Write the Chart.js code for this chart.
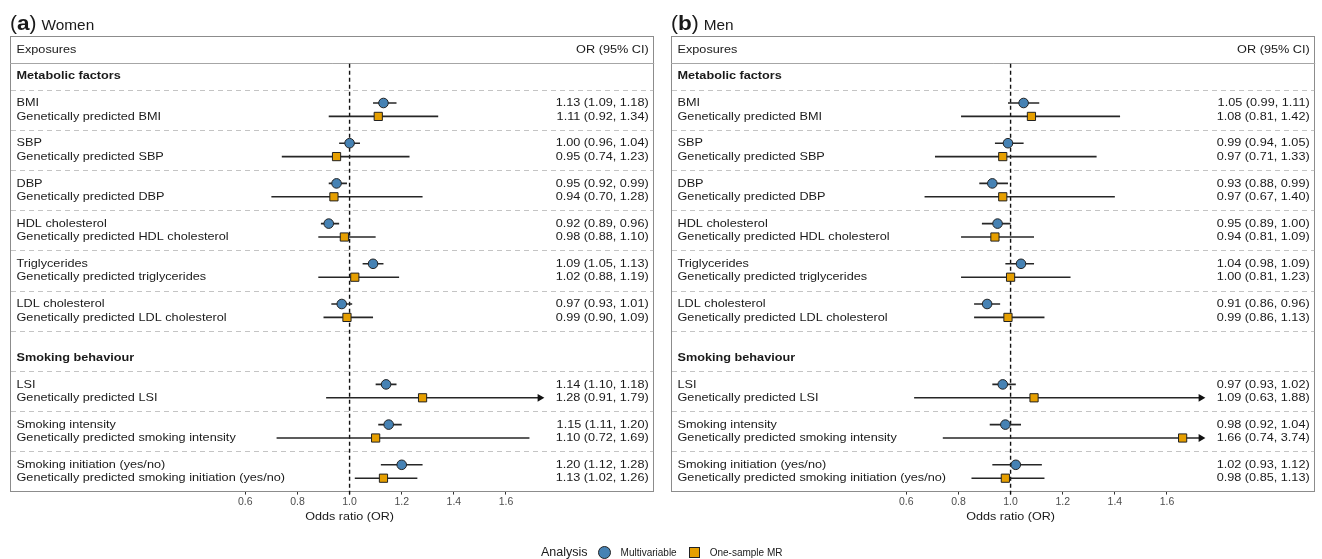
<!DOCTYPE html>
<html><head><meta charset="utf-8">
<script src="https://cdn.jsdelivr.net/npm/chart.js@4"></script>
<style>
body{margin:0;background:#fff;width:1322px;height:559px;overflow:hidden;position:relative;font-family:'Liberation Sans',Arial,sans-serif;}
canvas{position:absolute;top:0;}
#c1{left:0}
#c2{left:661px}
#legend{position:absolute;top:543px;left:541px;height:18px;display:flex;align-items:center;color:#1a1a1a;white-space:nowrap;}
#legend .t{font-size:12.5px;margin-right:10px;}
#legend .c{width:11px;height:11px;border-radius:50%;background:#4682B4;border:1px solid #222;margin-right:10px;}
#legend .s{width:9px;height:9px;background:#E69F00;border:1px solid #222;margin-right:10px;}
#legend .l{font-size:10px;margin-right:12px;}
</style></head><body>
<canvas id="c1" width="661" height="559"></canvas>
<canvas id="c2" width="661" height="559"></canvas>
<div id="legend"><span class="t">Analysis</span><span class="c"></span><span class="l">Multivariable</span><span class="s"></span><span class="l">One-sample MR</span></div>
<script>
// ---------- data ----------
const groupNames = ['Metabolic factors', 'Smoking behaviour'];
const exposureGroup = [0, 0, 0, 0, 0, 0, 1, 1, 1];
const exposures = ['BMI', 'SBP', 'DBP', 'HDL cholesterol', 'Triglycerides', 'LDL cholesterol',
  'LSI', 'Smoking intensity', 'Smoking initiation (yes/no)'];
const mrLabels = ['Genetically predicted BMI', 'Genetically predicted SBP', 'Genetically predicted DBP',
  'Genetically predicted HDL cholesterol', 'Genetically predicted triglycerides',
  'Genetically predicted LDL cholesterol', 'Genetically predicted LSI',
  'Genetically predicted smoking intensity', 'Genetically predicted smoking initiation (yes/no)'];

const womenMV_or = [1.13, 1.00, 0.95, 0.92, 1.09, 0.97, 1.14, 1.15, 1.20];
const womenMV_lo = [1.09, 0.96, 0.92, 0.89, 1.05, 0.93, 1.10, 1.11, 1.12];
const womenMV_hi = [1.18, 1.04, 0.99, 0.96, 1.13, 1.01, 1.18, 1.20, 1.28];
const womenMR_or = [1.11, 0.95, 0.94, 0.98, 1.02, 0.99, 1.28, 1.10, 1.13];
const womenMR_lo = [0.92, 0.74, 0.70, 0.88, 0.88, 0.90, 0.91, 0.72, 1.02];
const womenMR_hi = [1.34, 1.23, 1.28, 1.10, 1.19, 1.09, 1.79, 1.69, 1.26];

const menMV_or = [1.05, 0.99, 0.93, 0.95, 1.04, 0.91, 0.97, 0.98, 1.02];
const menMV_lo = [0.99, 0.94, 0.88, 0.89, 0.98, 0.86, 0.93, 0.92, 0.93];
const menMV_hi = [1.11, 1.05, 0.99, 1.00, 1.09, 0.96, 1.02, 1.04, 1.12];
const menMR_or = [1.08, 0.97, 0.97, 0.94, 1.00, 0.99, 1.09, 1.66, 0.98];
const menMR_lo = [0.81, 0.71, 0.67, 0.81, 0.81, 0.86, 0.63, 0.74, 0.85];
const menMR_hi = [1.42, 1.33, 1.40, 1.09, 1.23, 1.13, 1.88, 3.74, 1.13];

const xTicks = [0.6, 0.8, 1.0, 1.2, 1.4, 1.6];
const nullValue = 1.0;
const arrowCap = 1.73;

// ---------- layout (row slots, 1 slot = one text line) ----------
const X_MIN = 1 - 340 / 261, X_MAX = 1 + 305 / 261;
const Y_MAX = 34;
const HEADER_POS = 1, HEADER_LINE = 2;
function rowPos(i) { return exposureGroup[i] === 0 ? 5 + 3 * i : 26 + 3 * (i - 6); }
const groupPos = [3, 24];
const sepPos = [4, 7, 10, 13, 16, 19, 22, 25, 28, 31];

const FONT = "'Liberation Sans', Arial, sans-serif";
const TXT = '#1a1a1a';
const SX = 1.075; // slight horizontal stretch of the source figure's text
const FS = 11.8;
const fmt = (o, l, h) => `${o.toFixed(2)} (${l.toFixed(2)}, ${h.toFixed(2)})`;

function txt(ctx, s, x, y, size, align, weight, base) {
  ctx.save();
  ctx.font = `${weight || ''} ${size}px ${FONT}`;
  ctx.textAlign = align || 'left';
  ctx.textBaseline = base || 'middle';
  ctx.translate(x, y);
  ctx.scale(SX, 1);
  ctx.fillText(s, 0, 0);
  const w = ctx.measureText(s).width * SX;
  ctx.restore();
  return w;
}

function makePanel(id, tag, title, mv, mr) {
  const tablePlugin = {
    id: 'table' + id,
    beforeDatasetsDraw(chart) {
      const { ctx, chartArea: a, scales: { x, y } } = chart;
      ctx.save();
      ctx.fillStyle = TXT;
      // title
      let tx = 10;
      tx += txt(ctx, '(', tx, 30, 19.5, 'left', '', 'alphabetic');
      tx += txt(ctx, tag, tx, 30, 21, 'left', 'bold', 'alphabetic');
      tx += txt(ctx, ')', tx, 30, 19.5, 'left', '', 'alphabetic');
      txt(ctx, title, tx + 5, 30, 14.3, 'left', '', 'alphabetic');
      // box
      ctx.strokeStyle = '#8c8c8c'; ctx.lineWidth = 1;
      ctx.strokeRect(Math.round(a.left) + 0.5, Math.round(a.top) + 0.5, Math.round(a.width) - 1, Math.round(a.height) - 1);
      // header line
      const hy = Math.round(y.getPixelForValue(HEADER_LINE)) + 0.5;
      ctx.strokeStyle = '#a6a6a6';
      ctx.beginPath(); ctx.moveTo(a.left, hy); ctx.lineTo(a.right, hy); ctx.stroke();
      // dashed separators
      ctx.strokeStyle = '#c4c4c4'; ctx.setLineDash([5, 4]);
      sepPos.forEach(p => {
        const sy = Math.round(y.getPixelForValue(p)) + 0.5;
        ctx.beginPath(); ctx.moveTo(a.left + 1, sy); ctx.lineTo(a.right - 1, sy); ctx.stroke();
      });
      // null line
      ctx.strokeStyle = '#111'; ctx.lineWidth = 1.4; ctx.setLineDash([4, 3]);
      const nx = x.getPixelForValue(nullValue);
      ctx.beginPath(); ctx.moveTo(nx, y.getPixelForValue(HEADER_LINE) + 1); ctx.lineTo(nx, a.bottom + 3); ctx.stroke();
      ctx.setLineDash([]);
      // texts
      const lx = a.left + 6.5, rx = a.right - 5.5;
      txt(ctx, 'Exposures', lx, y.getPixelForValue(HEADER_POS), FS, 'left');
      txt(ctx, 'OR (95% CI)', rx, y.getPixelForValue(HEADER_POS), FS, 'right');
      groupNames.forEach((g, k) => txt(ctx, g, lx, y.getPixelForValue(groupPos[k]), FS, 'left', 'bold'));
      exposures.forEach((e, i) => {
        const p = rowPos(i);
        txt(ctx, e, lx, y.getPixelForValue(p), FS, 'left');
        txt(ctx, mrLabels[i], lx, y.getPixelForValue(p + 1), FS, 'left');
        txt(ctx, fmt(mv.or[i], mv.lo[i], mv.hi[i]), rx, y.getPixelForValue(p), FS, 'right');
        txt(ctx, fmt(mr.or[i], mr.lo[i], mr.hi[i]), rx, y.getPixelForValue(p + 1), FS, 'right');
      });
      ctx.restore();
    },
    afterDraw(chart) {
      const { ctx, scales: { x } } = chart;
      ctx.save();
      ctx.fillStyle = TXT;
      txt(ctx, 'Odds ratio (OR)', x.getPixelForValue(nullValue), 517, 11.7, 'center');
      ctx.restore();
    }
  };

  const datasets = [];
  datasets.push({
    type: 'scatter', order: 0,
    data: mv.or.map((v, i) => ({ x: v, y: rowPos(i) })),
    pointStyle: 'circle', pointRadius: 4.8, backgroundColor: '#4682B4', borderColor: '#222', borderWidth: 1
  });
  datasets.push({
    type: 'scatter', order: 0,
    data: mr.or.map((v, i) => ({ x: v, y: rowPos(i) + 1 })),
    pointStyle: 'rect', pointRadius: 5.8, backgroundColor: '#E69F00', borderColor: '#222', borderWidth: 1
  });
  const arrows = [];
  [[mv, 0], [mr, 1]].forEach(([s, off]) => {
    s.or.forEach((v, i) => {
      const hi = Math.min(s.hi[i], arrowCap);
      if (s.hi[i] > arrowCap) arrows.push({ x: arrowCap, y: rowPos(i) + off });
      datasets.push({
        type: 'line', order: 2,
        data: [{ x: s.lo[i], y: rowPos(i) + off }, { x: hi, y: rowPos(i) + off }],
        borderColor: '#262626', borderWidth: 1.6, pointRadius: 0, fill: false
      });
    });
  });
  datasets.push({
    type: 'scatter', order: 1, data: arrows,
    pointStyle: 'triangle', rotation: 90, pointRadius: 4.5, backgroundColor: '#111', borderColor: '#111', borderWidth: 0
  });

  new Chart(document.getElementById(id), {
    type: 'scatter',
    data: { datasets },
    options: {
      responsive: false, animation: false, events: [],
      layout: { padding: { left: 10, right: 6, top: 36, bottom: 47.4 } },
      plugins: { legend: { display: false }, tooltip: { enabled: false } },
      scales: {
        x: {
          type: 'linear', min: X_MIN, max: X_MAX,
          afterBuildTicks: s => { s.ticks = xTicks.map(v => ({ value: v })); },
          afterFit: s => { s.height = 20; },
          grid: { drawOnChartArea: false, drawTicks: true, tickLength: 3, color: '#333', lineWidth: 1 },
          border: { display: false },
          ticks: { padding: 1, autoSkip: false, maxRotation: 0, color: '#4d4d4d',
                   font: { size: 10.5, family: FONT }, callback: v => Number(v).toFixed(1) }
        },
        y: { type: 'linear', min: 0, max: Y_MAX, reverse: true, display: false }
      }
    },
    plugins: [tablePlugin]
  });
}

makePanel('c1', 'a', 'Women',
  { or: womenMV_or, lo: womenMV_lo, hi: womenMV_hi },
  { or: womenMR_or, lo: womenMR_lo, hi: womenMR_hi });
makePanel('c2', 'b', 'Men',
  { or: menMV_or, lo: menMV_lo, hi: menMV_hi },
  { or: menMR_or, lo: menMR_lo, hi: menMR_hi });
</script>
</body></html>
